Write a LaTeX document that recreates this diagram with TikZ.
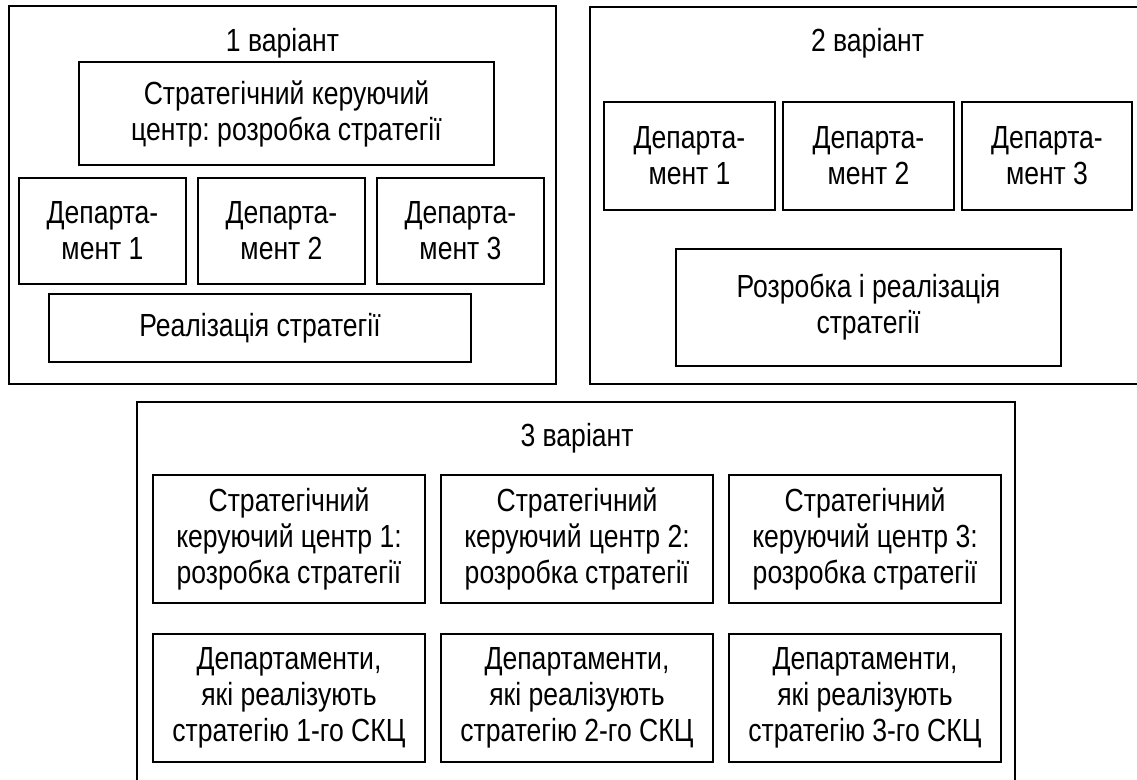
\documentclass[tikz,border=0pt]{standalone}
\usepackage{fontspec}
\setmainfont{Liberation Sans}[FakeStretch=0.83]
\frenchspacing
\begin{document}
\begin{tikzpicture}[x=0.75pt,y=-0.75pt,
  box/.style={draw, line width=1.4pt, align=center, inner sep=0pt,
    font=\fontsize{24}{27}\selectfont},
  boxsize/.style 2 args={minimum width=#1*0.75pt, minimum height=#2*0.75pt},
  title/.style={font=\fontsize{24}{27}\selectfont}]
\useasboundingbox (0,0) rectangle (1137,780);

% variant 1
\node[box, boxsize={547}{378}] (v1) at (282.5,195) {};
\node[title] (t1) at (282.5,43) {1 варіант};
\node[box, boxsize={415}{103}] (sc1) at (286.5,113.5) {Стратегічний керуючий\\центр: розробка стратегії};
\node[box, boxsize={167}{106}] (d1a) at (102.5,231) {Департа-\\мент 1};
\node[box, boxsize={167}{106}] (d2a) at (281.5,231) {Департа-\\мент 2};
\node[box, boxsize={167}{106}] (d3a) at (460.5,231) {Департа-\\мент 3};
\node[box, boxsize={422}{68}] (ra) at (260,328) {Реалізація стратегії};

% variant 2
\node[box, boxsize={560}{377}] (v2) at (870,195.5) {};
\node[title] (t2) at (867.5,43) {2 варіант};
\node[box, boxsize={171}{108}] (d1b) at (689.5,156) {Департа-\\мент 1};
\node[box, boxsize={171}{108}] (d2b) at (868.5,156) {Департа-\\мент 2};
\node[box, boxsize={170}{108}] (d3b) at (1047,156) {Департа-\\мент 3};
\node[box, boxsize={385}{117}] (rb) at (868.5,307.5) {Розробка і реалізація\\стратегії};

% variant 3
\node[box, boxsize={878}{390}] (v3) at (576,597) {};
\node[title] (t3) at (577,438) {3 варіант};
\node[box, boxsize={272}{128}] (sc1c) at (289,539) {Стратегічний\\керуючий центр 1:\\розробка стратегії};
\node[box, boxsize={272}{128}] (sc2c) at (577,539) {Стратегічний\\керуючий центр 2:\\розробка стратегії};
\node[box, boxsize={272}{128}] (sc3c) at (865,539) {Стратегічний\\керуючий центр 3:\\розробка стратегії};
\node[box, boxsize={272}{128}] (d1c) at (289,698) {Департаменти,\\які реалізують\\стратегію 1-го СКЦ};
\node[box, boxsize={272}{128}] (d2c) at (577,698) {Департаменти,\\які реалізують\\стратегію 2-го СКЦ};
\node[box, boxsize={272}{128}] (d3c) at (865,698) {Департаменти,\\які реалізують\\стратегію 3-го СКЦ};
\end{tikzpicture}
\end{document}
